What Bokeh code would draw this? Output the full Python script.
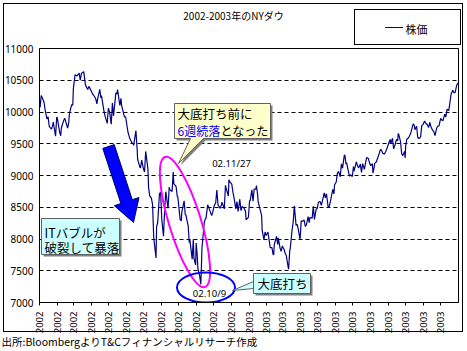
import math
import pandas as pd
from bokeh.plotting import figure
from bokeh.models import (Range1d, FixedTicker, DatetimeTickFormatter, LinearAxis, ColumnDataSource)
from bokeh.core.properties import value
from bokeh.embed import file_html
from bokeh.resources import INLINE

# ---------------- data ----------------
dates_2002 = ["01-02","01-04","01-07","01-09","01-11","01-14","01-16","01-18","01-22","01-24","01-25","01-29","01-31",
 "02-01","02-05","02-07","02-08","02-12","02-14","02-19","02-21","02-22","02-26","02-28",
 "03-01","03-04","03-06","03-08","03-11","03-13","03-15","03-19","03-21","03-22","03-26","03-28",
 "04-02","04-04","04-05","04-09","04-11","04-12","04-16","04-18","04-19","04-23","04-25","04-29",
 "05-01","05-03","05-06","05-08","05-10","05-14","05-16","05-17","05-21","05-23","05-24","05-29","05-31",
 "06-04","06-06","06-07","06-11","06-13","06-14","06-18","06-20","06-21","06-25","06-26","06-28",
 "07-01","07-03","07-05","07-09","07-10","07-12","07-15","07-17","07-19","07-22","07-23","07-24","07-26","07-29","07-31",
 "08-02","08-05","08-07","08-09","08-13","08-15","08-16","08-20","08-22","08-23","08-27","08-29","08-30",
 "09-03","09-05","09-06","09-10","09-12","09-13","09-17","09-19","09-20","09-24","09-26","09-27","09-30",
 "10-01","10-03","10-04","10-07","10-09","10-10","10-11","10-15","10-17","10-18","10-21","10-23","10-25","10-28","10-30",
 "11-01","11-04","11-06","11-08","11-12","11-14","11-15","11-19","11-21","11-22","11-26","11-27","11-29",
 "12-02","12-04","12-06","12-09","12-11","12-13","12-16","12-18","12-20","12-23","12-26","12-27","12-30","12-31"]
dow_2002 = [10073,10259,10197,10150,10022,9891,9924,9771,9730,9796,9840,9618,9920,
 9907,9685,9625,9744,9863,9903,9745,9834,9968,10115,10106,
 10368,10586,10574,10572,10611,10502,10608,10635,10501,10427,10353,10404,
 10313,10273,10271,10208,10128,10190,10357,10220,10257,10031,9944,9820,
 10059,10006,9809,10141,9939,10298,10289,10353,10102,10216,10105,9924,9925,
 9689,9624,9589,9517,9502,9474,9706,9431,9253,9127,9120,9243,
 9109,9054,9379,9096,8813,8684,8639,8542,8019,7784,7702,8191,8264,8712,8737,
 8313,8043,8456,8745,8483,8818,8778,8747,9053,8872,8824,8670,8664,
 8309,8283,8427,8602,8379,8380,8207,7942,7986,7683,7997,7701,7592,
 7938,7717,7528,7423,7286,7533,7850,8255,8322,8322,8538,8494,8443,8368,8427,
 8517,8571,8771,8537,8483,8542,8579,8474,8845,8805,8676,8931,8896,
 8863,8737,8645,8473,8589,8433,8627,8447,8511,8493,8432,8303,8332,8342]

dates_2003 = ["01-02","01-03","01-06","01-08","01-10","01-13","01-14","01-16","01-17","01-21","01-23","01-24","01-27","01-29","01-31",
 "02-03","02-05","02-07","02-10","02-12","02-13","02-14","02-18","02-20","02-21","02-24","02-26","02-28",
 "03-03","03-05","03-07","03-10","03-11","03-13","03-14","03-17","03-19","03-21","03-24","03-26","03-28","03-31",
 "04-02","04-04","04-07","04-09","04-11","04-14","04-16","04-17","04-21","04-23","04-25","04-28","04-30",
 "05-02","05-05","05-07","05-09","05-12","05-14","05-16","05-19","05-21","05-23","05-27","05-29","05-30",
 "06-02","06-04","06-06","06-09","06-11","06-13","06-16","06-17","06-19","06-20","06-23","06-25","06-27","06-30",
 "07-02","07-03","07-07","07-09","07-11","07-14","07-16","07-18","07-21","07-23","07-25","07-28","07-30",
 "08-01","08-04","08-05","08-07","08-08","08-11","08-13","08-15","08-18","08-20","08-22","08-25","08-27","08-29",
 "09-02","09-04","09-05","09-08","09-10","09-12","09-15","09-17","09-18","09-19","09-22","09-24","09-26","09-29","09-30",
 "10-01","10-03","10-06","10-08","10-10","10-14","10-16","10-17","10-20","10-22","10-24","10-27","10-29","10-31",
 "11-03","11-05","11-07","11-10","11-12","11-14","11-17","11-19","11-21","11-24","11-26","11-28",
 "12-01","12-03","12-05","12-08","12-10","12-12","12-15","12-17","12-19","12-22","12-24","12-26","12-29","12-31"]
dow_2003 = [8607,8601,8773,8595,8785,8785,8842,8697,8586,8442,8369,8131,7989,8110,8054,
 8110,7985,7865,7864,7758,7749,7909,8042,7915,8018,7859,7806,7891,
 7838,7775,7740,7568,7524,7821,7859,8141,8266,8522,8215,8229,8145,7992,
 8285,8277,8300,8197,8221,8351,8257,8338,8328,8515,8307,8471,8480,
 8583,8588,8531,8604,8726,8647,8713,8493,8516,8601,8781,8711,8850,
 8897,9038,9062,8980,9183,9117,9318,9323,9179,9201,9073,8989,9011,8985,
 9142,9070,9216,9156,9119,9178,9050,9188,9096,9194,9284,9266,9200,
 9153,9186,9037,9126,9191,9217,9271,9321,9412,9397,9348,9340,9374,9416,
 9524,9568,9503,9587,9420,9471,9567,9545,9659,9644,9535,9343,9313,9380,9275,
 9469,9572,9595,9630,9674,9812,9791,9721,9777,9599,9582,9608,9786,9801,
 9858,9820,9809,9756,9838,9768,9710,9690,9629,9747,9779,9782,
 9899,9873,9863,9965,9921,10042,10022,10145,10278,10341,10305,10305,10425,10454]

y_ticks = [7000, 7500, 8000, 8500, 9000, 9500, 10000, 10500, 11000]
title_text = "2002-2003年のNYダウ"
legend_text = "株価"
source_text = "出所:BloombergよりT&Cフィナンシャルリサーチ作成"

# ---------------- layout ----------------
W, H = 467, 351
FL, FR, FT, FB = 39, 458, 48, 302
X0 = pd.Timestamp("2002-01-01").value / 1e6
X1 = pd.Timestamp("2004-01-01").value / 1e6
Y0, Y1 = 7000, 11000

dates = pd.to_datetime(["2002-" + d for d in dates_2002] + ["2003-" + d for d in dates_2003])
src = ColumnDataSource(dict(date=dates, dow=dow_2002 + dow_2003))

JP = "Noto Sans CJK JP"
NUM = "Noto Sans"

p = figure(width=W, height=H, x_axis_type="datetime", title=None,
           x_range=Range1d(X0, X1), y_range=Range1d(Y0, Y1),
           output_backend="svg", toolbar_location=None,
           min_border_left=FL, min_border_right=W - FR,
           min_border_top=FT, min_border_bottom=H - FB)
p.background_fill_color = "white"
p.border_fill_color = None
p.outline_line_color = "black"
p.outline_line_width = 1
p.outline_line_alpha = 1

# chart frame, legend box and legend key drawn as CSS lines on the page element
css_lines = [  # (x, y, w, h, colour)
    (3, 3, 460, 1, "#000"), (3, 331, 460, 1, "#000"), (3, 3, 1, 329, "#000"), (462, 3, 1, 329, "#000"),
    (354, 9, 107, 1, "#000"), (354, 44, 107, 1, "#000"), (354, 9, 1, 36, "#000"), (460, 9, 1, 36, "#000"),
    (385, 27, 18, 1, "#000080"),
]
p.styles = {
    "background-color": "white",
    "background-image": ", ".join(f"linear-gradient({c},{c})" for *_, c in css_lines),
    "background-position": ", ".join(f"{x}px {y}px" for x, y, w, h, c in css_lines),
    "background-size": ", ".join(f"{w}px {h}px" for x, y, w, h, c in css_lines),
    "background-repeat": "no-repeat",
}

xa = p.xaxis[0]
ya = p.yaxis[0]

# y axis
ya.ticker = FixedTicker(ticks=y_ticks)
ya.major_tick_out = 0
ya.major_tick_in = 0
ya.minor_tick_out = 0
ya.minor_tick_line_color = None
ya.axis_line_color = "black"
ya.major_label_text_font = NUM
ya.major_label_text_font_size = "10px"
ya.major_label_text_color = "black"
ya.major_label_standoff = 6

# x axis
month_ticks = [pd.Timestamp(d).value / 1e6 for d in pd.date_range("2002-01-01", "2003-12-01", freq="MS")]
xa.ticker = FixedTicker(ticks=month_ticks)
fmt = "%Y"
xa.formatter = DatetimeTickFormatter(milliseconds=fmt, seconds=fmt, minsec=fmt, minutes=fmt,
                                     hourmin=fmt, hours=fmt, days=fmt, months=fmt, years=fmt)
xa.major_label_orientation = math.pi / 2
xa.major_tick_out = 3
xa.major_tick_in = 0
xa.minor_tick_out = 0
xa.minor_tick_line_color = None
xa.axis_line_color = "black"
xa.major_tick_line_color = "black"
xa.major_label_text_font = NUM
xa.major_label_text_font_size = "9.5px"
xa.major_label_text_color = "black"
xa.major_label_standoff = 6

# grid
p.xgrid.grid_line_color = None
p.ygrid.grid_line_color = "black"
p.ygrid.grid_line_dash = "4 3"
p.ygrid.grid_line_width = 1

# pixel-like helper range for the header / footer text axes
p.extra_x_ranges = {"px": Range1d(FL, FR)}

def text_axis(tick, text, size, standoff):
    ax = LinearAxis(x_range_name="px", ticker=FixedTicker(ticks=[tick]),
                    major_label_overrides={tick: text})
    ax.axis_line_color = None
    ax.major_tick_line_color = None
    ax.minor_tick_line_color = None
    ax.major_tick_out = 0
    ax.major_tick_in = 0
    ax.minor_tick_out = 0
    ax.minor_tick_in = 0
    ax.major_label_standoff = standoff
    ax.major_label_orientation = "horizontal"
    ax.major_label_text_font = JP
    ax.major_label_text_font_size = size
    ax.major_label_text_color = "black"
    return ax

# header rows (first added = nearest the frame): legend label, then chart title
p.add_layout(text_axis(416, legend_text, "11px", 12), "above")
p.add_layout(text_axis(233, title_text, "10px", -5), "above")
# footer: source note
p.add_layout(text_axis(127, source_text, "10.5px", -3), "below")

# ---------------- helpers for annotation placement ----------------
def dx(px):
    return X0 + (px - FL) / (FR - FL) * (X1 - X0)

def dy(py):
    return Y0 + (FB - py) / (FB - FT) * (Y1 - Y0)

# main line
p.line(x="date", y="dow", source=src, line_color="#000080", line_width=1.2)

# blue arrow
arrow_px = [(102.3, 147.9), (113.7, 144.1), (131.8, 199.2), (138.5, 197.0),
            (133.0, 222.0), (113.8, 205.2), (120.4, 203.0)]
p.patch([dx(a) for a, b in arrow_px], [dy(b) for a, b in arrow_px],
        fill_color="#0000FF", line_color="#000066", line_width=1)

# IT bubble callout
p.quad(left=dx(43), right=dx(121), top=dy(220), bottom=dy(256), fill_color="#808080", line_color=None)
p.quad(left=dx(41), right=dx(119), top=dy(218), bottom=dy(254), fill_color="#CCFFFF",
       line_color="#606060", line_width=1)
p.text(x=[dx(44), dx(44)], y=[dy(232), dy(247)], text=["ITバブルが", "破裂して暴落"],
       text_font=value(JP), text_font_size="12.5px", text_color="black",
       text_align="left", text_baseline="middle")

# yellow callout
yel_px = [(174, 103), (270, 103), (270, 138), (203, 138), (178, 163), (190, 138), (174, 138)]
p.patch([dx(a + 2) for a, b in yel_px], [dy(b + 2) for a, b in yel_px], fill_color="#808080", line_color=None)
p.patch([dx(a) for a, b in yel_px], [dy(b) for a, b in yel_px], fill_color="#FFFFCC",
        line_color="#606060", line_width=1)
p.text(x=[dx(177)], y=[dy(113)], text=["大底打ち前に"], text_font=value(JP), text_font_size="12.5px",
       text_color="black", text_align="left", text_baseline="middle")
p.text(x=[dx(177)], y=[dy(130)], text=["6週続落"], text_font=value(JP), text_font_size="12px",
       text_color="#0000FF", text_align="left", text_baseline="middle")
p.text(x=[dx(220)], y=[dy(130)], text=["となった"], text_font=value(JP), text_font_size="12px",
       text_color="black", text_align="left", text_baseline="middle")

# ellipses
p.ellipse(x=dx(184.5), y=dy(221.5), width=32, height=136, angle=17, angle_units="deg",
          width_units="screen", height_units="screen", fill_alpha=0,
          line_color="#FF00FF", line_width=2)
p.ellipse(x=dx(205.5), y=dy(287), width=58, height=30,
          width_units="screen", height_units="screen", fill_alpha=0,
          line_color="#0000FF", line_width=2)

# bottom callout
tail_px = [(232, 290), (253, 281), (253, 288)]
p.patch([dx(a) for a, b in tail_px], [dy(b) for a, b in tail_px], fill_color="#CCFFFF",
        line_color="#606060", line_width=1)
p.quad(left=dx(255), right=dx(312), top=dy(275), bottom=dy(295), fill_color="#808080", line_color=None)
p.quad(left=dx(253), right=dx(310), top=dy(273), bottom=dy(293), fill_color="#CCFFFF",
       line_color="#606060", line_width=1)
p.text(x=[dx(257)], y=[dy(283)], text=["大底打ち"], text_font=value(JP), text_font_size="12.5px",
       text_color="black", text_align="left", text_baseline="middle")

# date notes
p.text(x=[dx(209), dx(231)], y=[dy(293), dy(163)], text=["02.10/9", "02.11/27"],
       text_font=value(NUM), text_font_size="9.5px", text_color="black",
       text_align="center", text_baseline="middle")

open("out.html", "w").write(file_html(p, INLINE))
